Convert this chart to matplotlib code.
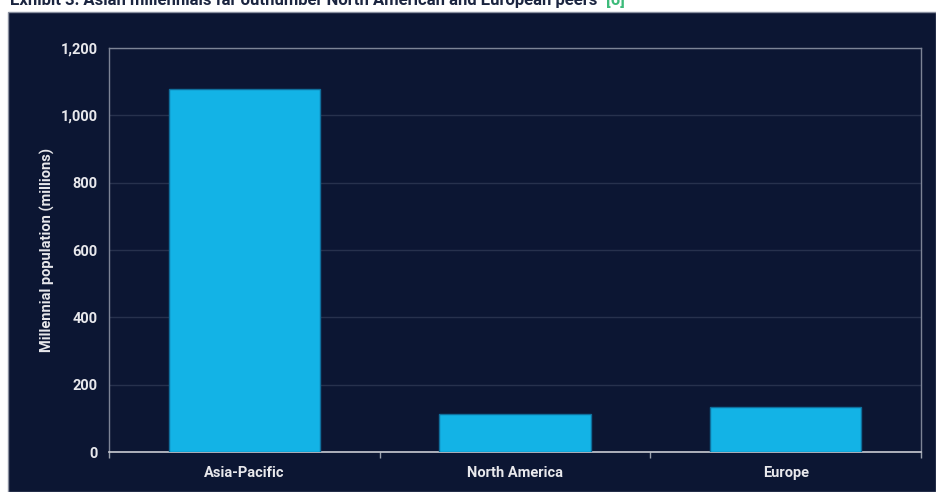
import numpy as np
import matplotlib as mpl
mpl.use('Agg')
import matplotlib.pyplot as plt
from matplotlib.patches import Rectangle

# data
regions = ['Asia-Pacific', 'North America', 'Europe']
millennials = [1078, 114, 134]
yticks = [0, 200, 400, 600, 800, 1000, 1200]

bg = '#0c1633'
bar_col = '#13b3e6'
txt = '#e8e8ec'

plt.rcParams['font.family'] = ['Roboto', 'DejaVu Sans']

fig = plt.figure(figsize=(9.36, 4.92), dpi=100)
fig.patch.set_facecolor('white')

# dark navy panel behind the chart
W, H = 936, 492
fig.patches.append(Rectangle((8 / W, 0), 1 - 8 / W, 1 - 12 / H, transform=fig.transFigure,
                             facecolor=bg, edgecolor='#8a90a0', linewidth=1, zorder=-5))

# title, clipped at the top like the screenshot
fig.text(10 / W, 1 - 8 / H, 'Exhibit 3: Asian millennials far outnumber North American and European peers',
         fontsize=12, fontweight='bold', color='#1b2540', va='bottom', ha='left')
fig.text(606 / W, 1 - 8 / H, '[6]', fontsize=12, fontweight='bold', color='#3dbb7a',
         va='bottom', ha='left')

ax = fig.add_axes([109 / W, 40 / H, 812 / W, 404 / H])
ax.set_facecolor(bg)

x = np.arange(len(regions))
ax.bar(x, millennials, width=0.56, color=bar_col, edgecolor='#0f6f9c', linewidth=1, zorder=3)

ax.set_xlim(-0.5, len(regions) - 0.5)
ax.set_ylim(0, 1200)
ax.set_yticks(yticks)
ax.set_yticklabels([f'{v:,}' for v in yticks])
ax.set_xticks(x)
ax.set_xticklabels(regions)
ax.set_xticks(np.arange(len(regions) + 1) - 0.5, minor=True)

ax.tick_params(axis='y', length=0, pad=8, labelsize=10.5, labelcolor=txt)
ax.tick_params(axis='x', which='major', length=0, pad=10, labelsize=10.5, labelcolor=txt)
ax.tick_params(axis='x', which='minor', length=4, width=1, color='#9aa0ad')
for lab in ax.get_yticklabels() + ax.get_xticklabels():
    lab.set_fontweight('bold')

ax.grid(axis='y', color='#27314d', linewidth=1, zorder=0)
ax.set_axisbelow(True)

for s in ['left', 'top', 'right']:
    ax.spines[s].set_color('#7d8496')
    ax.spines[s].set_linewidth(1)
ax.spines['bottom'].set_color('#c9cbd2')
ax.spines['bottom'].set_linewidth(1.2)

ax.set_ylabel('Millennial population (millions)', fontsize=10.5, fontweight='bold', color=txt, labelpad=4)

fig.savefig('out.png', dpi=100, facecolor=fig.get_facecolor())
